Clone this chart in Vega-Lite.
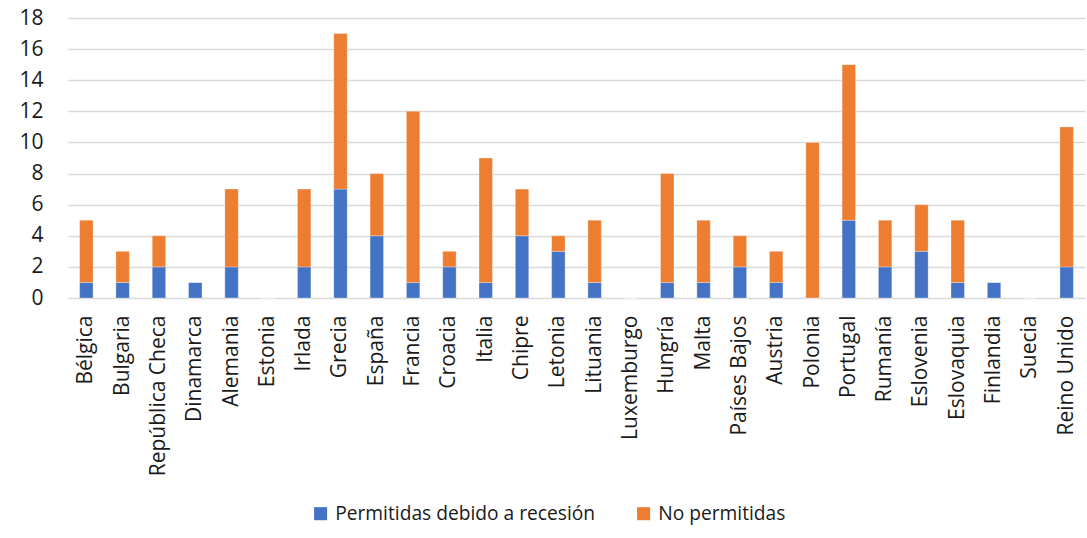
{
  "$schema": "https://vega.github.io/schema/vega-lite/v6.json",
  "autosize": "none",
  "padding": {"left": 68, "top": 18, "right": 2, "bottom": 240},
  "width": 1017,
  "height": 280,
  "background": "white",
  "config": {
    "view": {"stroke": null},
    "font": "Open Sans",
    "axis": {"labelFont": "Open Sans", "labelFontSize": 21, "labelColor": "#1a1a1a"},
    "legend": {"labelFont": "Open Sans", "labelFontSize": 19.2, "labelColor": "#1a1a1a", "labelLimit": 500}
  },
  "data": {
    "values": [
      {"pais": "Bélgica", "serie": "Permitidas debido a recesión", "valor": 1},
      {"pais": "Bélgica", "serie": "No permitidas", "valor": 4},
      {"pais": "Bulgaria", "serie": "Permitidas debido a recesión", "valor": 1},
      {"pais": "Bulgaria", "serie": "No permitidas", "valor": 2},
      {"pais": "República Checa", "serie": "Permitidas debido a recesión", "valor": 2},
      {"pais": "República Checa", "serie": "No permitidas", "valor": 2},
      {"pais": "Dinamarca", "serie": "Permitidas debido a recesión", "valor": 1},
      {"pais": "Dinamarca", "serie": "No permitidas", "valor": 0},
      {"pais": "Alemania", "serie": "Permitidas debido a recesión", "valor": 2},
      {"pais": "Alemania", "serie": "No permitidas", "valor": 5},
      {"pais": "Estonia", "serie": "Permitidas debido a recesión", "valor": 0},
      {"pais": "Estonia", "serie": "No permitidas", "valor": 0},
      {"pais": "Irlada", "serie": "Permitidas debido a recesión", "valor": 2},
      {"pais": "Irlada", "serie": "No permitidas", "valor": 5},
      {"pais": "Grecia", "serie": "Permitidas debido a recesión", "valor": 7},
      {"pais": "Grecia", "serie": "No permitidas", "valor": 10},
      {"pais": "España", "serie": "Permitidas debido a recesión", "valor": 4},
      {"pais": "España", "serie": "No permitidas", "valor": 4},
      {"pais": "Francia", "serie": "Permitidas debido a recesión", "valor": 1},
      {"pais": "Francia", "serie": "No permitidas", "valor": 11},
      {"pais": "Croacia", "serie": "Permitidas debido a recesión", "valor": 2},
      {"pais": "Croacia", "serie": "No permitidas", "valor": 1},
      {"pais": "Italia", "serie": "Permitidas debido a recesión", "valor": 1},
      {"pais": "Italia", "serie": "No permitidas", "valor": 8},
      {"pais": "Chipre", "serie": "Permitidas debido a recesión", "valor": 4},
      {"pais": "Chipre", "serie": "No permitidas", "valor": 3},
      {"pais": "Letonia", "serie": "Permitidas debido a recesión", "valor": 3},
      {"pais": "Letonia", "serie": "No permitidas", "valor": 1},
      {"pais": "Lituania", "serie": "Permitidas debido a recesión", "valor": 1},
      {"pais": "Lituania", "serie": "No permitidas", "valor": 4},
      {"pais": "Luxemburgo", "serie": "Permitidas debido a recesión", "valor": 0},
      {"pais": "Luxemburgo", "serie": "No permitidas", "valor": 0},
      {"pais": "Hungría", "serie": "Permitidas debido a recesión", "valor": 1},
      {"pais": "Hungría", "serie": "No permitidas", "valor": 7},
      {"pais": "Malta", "serie": "Permitidas debido a recesión", "valor": 1},
      {"pais": "Malta", "serie": "No permitidas", "valor": 4},
      {"pais": "Países Bajos", "serie": "Permitidas debido a recesión", "valor": 2},
      {"pais": "Países Bajos", "serie": "No permitidas", "valor": 2},
      {"pais": "Austria", "serie": "Permitidas debido a recesión", "valor": 1},
      {"pais": "Austria", "serie": "No permitidas", "valor": 2},
      {"pais": "Polonia", "serie": "Permitidas debido a recesión", "valor": 0},
      {"pais": "Polonia", "serie": "No permitidas", "valor": 10},
      {"pais": "Portugal", "serie": "Permitidas debido a recesión", "valor": 5},
      {"pais": "Portugal", "serie": "No permitidas", "valor": 10},
      {"pais": "Rumanía", "serie": "Permitidas debido a recesión", "valor": 2},
      {"pais": "Rumanía", "serie": "No permitidas", "valor": 3},
      {"pais": "Eslovenia", "serie": "Permitidas debido a recesión", "valor": 3},
      {"pais": "Eslovenia", "serie": "No permitidas", "valor": 3},
      {"pais": "Eslovaquia", "serie": "Permitidas debido a recesión", "valor": 1},
      {"pais": "Eslovaquia", "serie": "No permitidas", "valor": 4},
      {"pais": "Finlandia", "serie": "Permitidas debido a recesión", "valor": 1},
      {"pais": "Finlandia", "serie": "No permitidas", "valor": 0},
      {"pais": "Suecia", "serie": "Permitidas debido a recesión", "valor": 0},
      {"pais": "Suecia", "serie": "No permitidas", "valor": 0},
      {"pais": "Reino Unido", "serie": "Permitidas debido a recesión", "valor": 2},
      {"pais": "Reino Unido", "serie": "No permitidas", "valor": 9}
    ]
  },
  "mark": {"type": "bar", "stroke": "white", "strokeWidth": 0.5, "strokeOpacity": 0.6},
  "encoding": {
    "x": {
      "field": "pais",
      "type": "nominal",
      "sort": null,
      "scale": {"paddingInner": 0.63, "paddingOuter": 0.32},
      "axis": {
        "title": null,
        "labelAngle": -90,
        "ticks": false,
        "domain": false,
        "labelPadding": 17
      }
    },
    "y": {
      "field": "valor",
      "type": "quantitative",
      "stack": "zero",
      "scale": {"domain": [0, 18], "nice": false},
      "axis": {
        "title": null,
        "values": [0, 2, 4, 6, 8, 10, 12, 14, 16, 18],
        "ticks": false,
        "domain": false,
        "labelPadding": 25,
        "gridColor": "#d9d9d9",
        "gridWidth": 1.5
      }
    },
    "color": {
      "field": "serie",
      "type": "nominal",
      "scale": {
        "domain": ["Permitidas debido a recesión", "No permitidas"],
        "range": ["#4472C4", "#ED7D31"]
      },
      "legend": {
        "title": null,
        "orient": "none",
        "direction": "horizontal",
        "legendX": 243,
        "legendY": 486,
        "symbolType": "square",
        "symbolSize": 170,
        "symbolStrokeWidth": 0,
        "labelOffset": 5,
        "columnPadding": 38
      }
    },
    "order": {"field": "serie", "sort": "descending"}
  }
}
